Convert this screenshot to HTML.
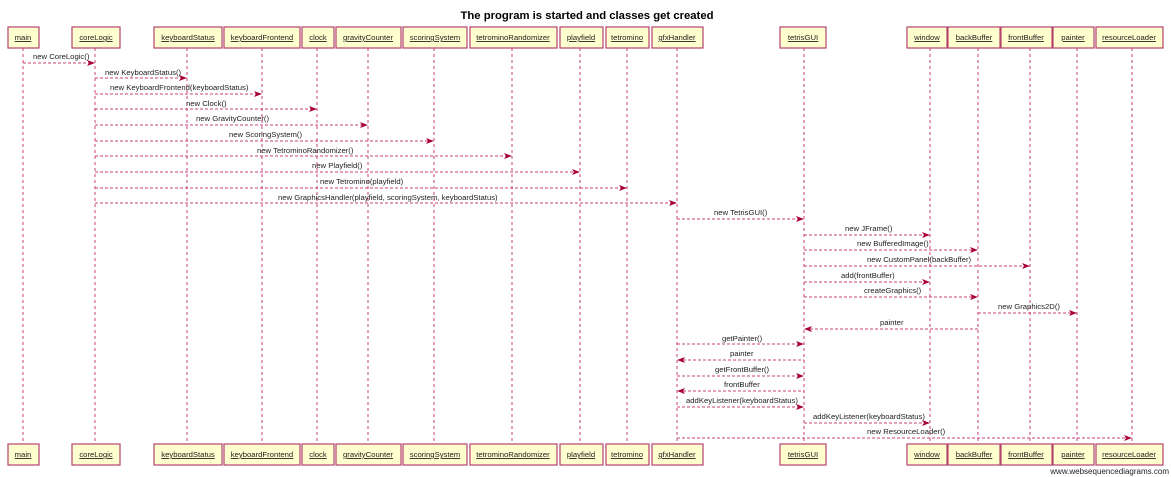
<!DOCTYPE html>
<html><head><meta charset="utf-8"><style>
html,body{margin:0;padding:0;background:#fff;width:1171px;height:477px;overflow:hidden}
svg{display:block}
text{font-family:"Liberation Sans",sans-serif;font-size:7.7px;fill:#222}
.b{fill:#fefece;stroke:#b4436e;stroke-width:1.2}
.l{stroke:#c9417a;stroke-width:1;stroke-dasharray:3,3;fill:none}
.m{stroke:#c9417a;stroke-width:1;stroke-dasharray:3,2;fill:none}
.n{text-anchor:middle;text-decoration:underline}
.t{text-anchor:middle}
.h{fill:#a80036}
</style></head><body>
<svg width="1171" height="477" viewBox="0 0 1171 477">
<text x="587" y="19" class="t" style="font-size:11.3px;font-weight:bold;fill:#000">The program is started and classes get created</text>
<g class="l">
<line x1="23" y1="48" x2="23" y2="444"/><line x1="95" y1="48" x2="95" y2="444"/>
<line x1="187" y1="48" x2="187" y2="444"/><line x1="262" y1="48" x2="262" y2="444"/>
<line x1="317" y1="48" x2="317" y2="444"/><line x1="368" y1="48" x2="368" y2="444"/>
<line x1="434" y1="48" x2="434" y2="444"/><line x1="512" y1="48" x2="512" y2="444"/>
<line x1="580" y1="48" x2="580" y2="444"/><line x1="627" y1="48" x2="627" y2="444"/>
<line x1="677" y1="48" x2="677" y2="444"/><line x1="804" y1="48" x2="804" y2="444"/>
<line x1="930" y1="48" x2="930" y2="444"/><line x1="978" y1="48" x2="978" y2="444"/>
<line x1="1030" y1="48" x2="1030" y2="444"/><line x1="1077" y1="48" x2="1077" y2="444"/>
<line x1="1132" y1="48" x2="1132" y2="444"/>
</g>
<g>
<rect class="b" x="8" y="27" width="31" height="21"/><rect class="b" x="72" y="27" width="48" height="21"/>
<rect class="b" x="154" y="27" width="68" height="21"/><rect class="b" x="224" y="27" width="76" height="21"/>
<rect class="b" x="302" y="27" width="32" height="21"/><rect class="b" x="336" y="27" width="65" height="21"/>
<rect class="b" x="403" y="27" width="64" height="21"/><rect class="b" x="470" y="27" width="87" height="21"/>
<rect class="b" x="560" y="27" width="43" height="21"/><rect class="b" x="606" y="27" width="43" height="21"/>
<rect class="b" x="652" y="27" width="51" height="21"/><rect class="b" x="780" y="27" width="46" height="21"/>
<rect class="b" x="907" y="27" width="40" height="21"/><rect class="b" x="948" y="27" width="52" height="21"/>
<rect class="b" x="1001" y="27" width="51" height="21"/><rect class="b" x="1053" y="27" width="41" height="21"/>
<rect class="b" x="1096" y="27" width="67" height="21"/>
<rect class="b" x="8" y="444" width="31" height="21"/><rect class="b" x="72" y="444" width="48" height="21"/>
<rect class="b" x="154" y="444" width="68" height="21"/><rect class="b" x="224" y="444" width="76" height="21"/>
<rect class="b" x="302" y="444" width="32" height="21"/><rect class="b" x="336" y="444" width="65" height="21"/>
<rect class="b" x="403" y="444" width="64" height="21"/><rect class="b" x="470" y="444" width="87" height="21"/>
<rect class="b" x="560" y="444" width="43" height="21"/><rect class="b" x="606" y="444" width="43" height="21"/>
<rect class="b" x="652" y="444" width="51" height="21"/><rect class="b" x="780" y="444" width="46" height="21"/>
<rect class="b" x="907" y="444" width="40" height="21"/><rect class="b" x="948" y="444" width="52" height="21"/>
<rect class="b" x="1001" y="444" width="51" height="21"/><rect class="b" x="1053" y="444" width="41" height="21"/>
<rect class="b" x="1096" y="444" width="67" height="21"/>
</g>
<g class="n">
<text x="23" y="40">main</text><text x="96" y="40">coreLogic</text><text x="188" y="40">keyboardStatus</text>
<text x="262" y="40">keyboardFrontend</text><text x="318" y="40">clock</text><text x="368" y="40">gravityCounter</text>
<text x="435" y="40">scoringSystem</text><text x="513" y="40">tetrominoRandomizer</text><text x="581" y="40">playfield</text>
<text x="627" y="40">tetromino</text><text x="677" y="40">gfxHandler</text><text x="803" y="40">tetrisGUI</text>
<text x="927" y="40">window</text><text x="974" y="40">backBuffer</text><text x="1026" y="40">frontBuffer</text>
<text x="1073" y="40">painter</text><text x="1129" y="40">resourceLoader</text>
<text x="23" y="457">main</text><text x="96" y="457">coreLogic</text><text x="188" y="457">keyboardStatus</text>
<text x="262" y="457">keyboardFrontend</text><text x="318" y="457">clock</text><text x="368" y="457">gravityCounter</text>
<text x="435" y="457">scoringSystem</text><text x="513" y="457">tetrominoRandomizer</text><text x="581" y="457">playfield</text>
<text x="627" y="457">tetromino</text><text x="677" y="457">gfxHandler</text><text x="803" y="457">tetrisGUI</text>
<text x="927" y="457">window</text><text x="974" y="457">backBuffer</text><text x="1026" y="457">frontBuffer</text>
<text x="1073" y="457">painter</text><text x="1129" y="457">resourceLoader</text>
</g>
<g class="m">
<line x1="23" y1="63" x2="89" y2="63"/><line x1="95" y1="78" x2="181" y2="78"/>
<line x1="95" y1="94" x2="256" y2="94"/><line x1="95" y1="109" x2="311" y2="109"/>
<line x1="95" y1="125" x2="362" y2="125"/><line x1="95" y1="141" x2="428" y2="141"/>
<line x1="95" y1="156" x2="506" y2="156"/><line x1="95" y1="172" x2="574" y2="172"/>
<line x1="95" y1="188" x2="621" y2="188"/><line x1="95" y1="203" x2="671" y2="203"/>
<line x1="677" y1="219" x2="798" y2="219"/><line x1="804" y1="235" x2="924" y2="235"/>
<line x1="804" y1="250" x2="972" y2="250"/><line x1="804" y1="266" x2="1024" y2="266"/>
<line x1="804" y1="282" x2="924" y2="282"/><line x1="804" y1="297" x2="972" y2="297"/>
<line x1="978" y1="313" x2="1071" y2="313"/><line x1="810" y1="329" x2="978" y2="329"/>
<line x1="677" y1="344" x2="798" y2="344"/><line x1="683" y1="360" x2="804" y2="360"/>
<line x1="677" y1="376" x2="798" y2="376"/><line x1="683" y1="391" x2="804" y2="391"/>
<line x1="677" y1="407" x2="798" y2="407"/><line x1="804" y1="423" x2="924" y2="423"/>
<line x1="677" y1="438" x2="1126" y2="438"/>
</g>
<g class="h">
<polygon points="95,63 87,60 89,63 87,66"/><polygon points="187,78 179,75 181,78 179,81"/>
<polygon points="262,94 254,91 256,94 254,97"/><polygon points="317,109 309,106 311,109 309,112"/>
<polygon points="368,125 360,122 362,125 360,128"/><polygon points="434,141 426,138 428,141 426,144"/>
<polygon points="512,156 504,153 506,156 504,159"/><polygon points="580,172 572,169 574,172 572,175"/>
<polygon points="627,188 619,185 621,188 619,191"/><polygon points="677,203 669,200 671,203 669,206"/>
<polygon points="804,219 796,216 798,219 796,222"/><polygon points="930,235 922,232 924,235 922,238"/>
<polygon points="978,250 970,247 972,250 970,253"/><polygon points="1030,266 1022,263 1024,266 1022,269"/>
<polygon points="930,282 922,279 924,282 922,285"/><polygon points="978,297 970,294 972,297 970,300"/>
<polygon points="1077,313 1069,310 1071,313 1069,316"/><polygon points="804,329 812,326 810,329 812,332"/>
<polygon points="804,344 796,341 798,344 796,347"/><polygon points="677,360 685,357 683,360 685,363"/>
<polygon points="804,376 796,373 798,376 796,379"/><polygon points="677,391 685,388 683,391 685,394"/>
<polygon points="804,407 796,404 798,407 796,410"/><polygon points="930,423 922,420 924,423 922,426"/>
<polygon points="1132,438 1124,435 1126,438 1124,441"/>
</g>
<g>
<text x="33" y="59">new CoreLogic()</text>
<text x="105" y="75">new KeyboardStatus()</text>
<text x="110" y="90">new KeyboardFrontend(keyboardStatus)</text>
<text x="186" y="106">new Clock()</text>
<text x="196" y="121">new GravityCounter()</text>
<text x="229" y="137">new ScoringSystem()</text>
<text x="257" y="153">new TetrominoRandomizer()</text>
<text x="312" y="168">new Playfield()</text>
<text x="320" y="184">new Tetromino(playfield)</text>
<text x="278" y="200">new GraphicsHandler(playfield, scoringSystem, keyboardStatus)</text>
<text x="714" y="215">new TetrisGUI()</text>
<text x="845" y="231">new JFrame()</text>
<text x="857" y="246">new BufferedImage()</text>
<text x="867" y="262">new CustomPanel(backBuffer)</text>
<text x="841" y="278">add(frontBuffer)</text>
<text x="864" y="293">createGraphics()</text>
<text x="998" y="309">new Graphics2D()</text>
<text x="880" y="325">painter</text>
<text x="722" y="341">getPainter()</text>
<text x="730" y="356">painter</text>
<text x="715" y="372">getFrontBuffer()</text>
<text x="724" y="387">frontBuffer</text>
<text x="686" y="403">addKeyListener(keyboardStatus)</text>
<text x="813" y="419">addKeyListener(keyboardStatus)</text>
<text x="867" y="434">new ResourceLoader()</text>
</g>
<text x="1169" y="474" style="text-anchor:end;font-size:8px">www.websequencediagrams.com</text>
</svg>
</body></html>
